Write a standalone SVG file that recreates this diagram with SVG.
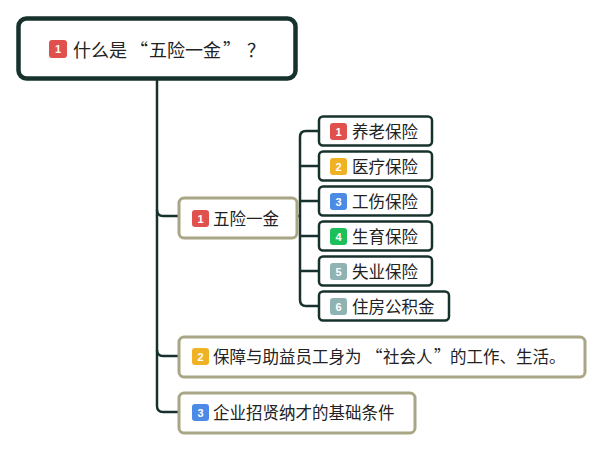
<svg xmlns="http://www.w3.org/2000/svg" width="603" height="451" viewBox="0 0 603 451">
<style>
text{font-family:"Microsoft YaHei","Noto Sans CJK SC","Noto Sans",sans-serif;fill:#222;dominant-baseline:central}
.lbl{font-size:16.5px}
.root-lbl{font-size:18px}
.num{font-family:"Liberation Sans",Arial,sans-serif;font-weight:bold;font-size:11px;fill:#fff;text-anchor:middle}
.dark{fill:#fff;stroke:#17322d;stroke-width:2.5}
.tan{fill:#fff;stroke:#a8a685;stroke-width:3}
.conn{fill:none;stroke:#17322d;stroke-width:2.5}
.red{fill:#e0514e}.yel{fill:#f0b224}.blu{fill:#4b8be6}.grn{fill:#1dbf5a}.gry{fill:#8fb3b3}
</style>
<rect width="603" height="451" fill="#fff"/>
<g id="connectors">
<path class="conn" d="M157,80 V406 Q157,412 163,412 H179"/>
<path class="conn" d="M157,210 Q157,216 163,216 H179"/>
<path class="conn" d="M157,350 Q157,356 163,356 H179"/>
<path class="conn" d="M297,216 H300"/>
<path class="conn" d="M318,131 H306 Q300,131 300,137 V300 Q300,306 306,306 H318"/>
<path class="conn" d="M300,166 H318 M300,201 H318 M300,236 H318 M300,271 H318"/>
</g>
<g id="root">
<rect x="18.5" y="18.5" width="277" height="60" rx="8" fill="#fff" stroke="#17322d" stroke-width="4.5"/>
<rect class="red" x="49" y="40" width="18" height="18" rx="3"/>
<text class="num" x="58" y="49">1</text>
<text class="root-lbl" y="49"><tspan x="73">什么是</tspan><tspan x="130">“</tspan><tspan x="149">五险一金</tspan><tspan x="223">”</tspan><tspan x="247">？</tspan></text>
</g>
<g id="n1">
<rect class="tan" x="179" y="198" width="118" height="40" rx="5"/>
<rect class="red" x="192" y="210" width="17" height="17" rx="3"/>
<text class="num" x="200.5" y="218.5">1</text>
<text class="lbl" x="213" y="218">五险一金</text>
</g>
<g id="c1">
<rect class="dark" x="319" y="116.5" width="113" height="29" rx="4"/>
<rect class="red" x="330" y="123" width="17" height="17" rx="3"/>
<text class="num" x="338.5" y="131.5">1</text>
<text class="lbl" x="352" y="131">养老保险</text>
</g>
<g id="c2">
<rect class="dark" x="319" y="151.5" width="113" height="29" rx="4"/>
<rect class="yel" x="330" y="158" width="17" height="17" rx="3"/>
<text class="num" x="338.5" y="166.5">2</text>
<text class="lbl" x="352" y="166">医疗保险</text>
</g>
<g id="c3">
<rect class="dark" x="319" y="186.5" width="113" height="29" rx="4"/>
<rect class="blu" x="330" y="193" width="17" height="17" rx="3"/>
<text class="num" x="338.5" y="201.5">3</text>
<text class="lbl" x="352" y="201">工伤保险</text>
</g>
<g id="c4">
<rect class="dark" x="319" y="221.5" width="113" height="29" rx="4"/>
<rect class="grn" x="330" y="228" width="17" height="17" rx="3"/>
<text class="num" x="338.5" y="236.5">4</text>
<text class="lbl" x="352" y="236">生育保险</text>
</g>
<g id="c5">
<rect class="dark" x="319" y="256.5" width="113" height="29" rx="4"/>
<rect class="gry" x="330" y="263" width="17" height="17" rx="3"/>
<text class="num" x="338.5" y="271.5">5</text>
<text class="lbl" x="352" y="271">失业保险</text>
</g>
<g id="c6">
<rect class="dark" x="319" y="291.5" width="130" height="29" rx="4"/>
<rect class="gry" x="330" y="298" width="17" height="17" rx="3"/>
<text class="num" x="338.5" y="306.5">6</text>
<text class="lbl" x="352" y="306">住房公积金</text>
</g>
<g id="n2">
<rect class="tan" x="179" y="337" width="406" height="40" rx="5"/>
<rect class="yel" x="192" y="348" width="17" height="17" rx="3"/>
<text class="num" x="200.5" y="356.5">2</text>
<text class="lbl" y="356"><tspan x="213">保障与助益员工身为</tspan><tspan x="366">“</tspan><tspan x="383">社会人</tspan><tspan x="434">”</tspan><tspan x="450">的工作、生活。</tspan></text>
</g>
<g id="n3">
<rect class="tan" x="179" y="393" width="236" height="40" rx="5"/>
<rect class="blu" x="192" y="404" width="17" height="17" rx="3"/>
<text class="num" x="200.5" y="412.5">3</text>
<text class="lbl" x="213" y="412">企业招贤纳才的基础条件</text>
</g>
</svg>
